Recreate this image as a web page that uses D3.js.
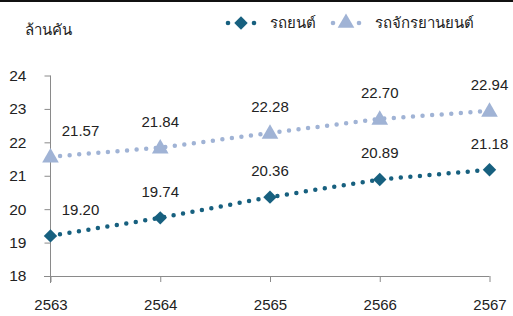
<!DOCTYPE html>
<html>
<head>
<meta charset="utf-8">
<script src="https://cdn.jsdelivr.net/npm/d3@7"></script>
<style>
  body { margin: 0; background: #fff; }
  svg { display: block; font-family: "Liberation Sans", Arial, sans-serif; }
</style>
</head>
<body>
<svg id="chart" width="513" height="316"></svg>
<script>
// datos
const years = ["2563", "2564", "2565", "2566", "2567"];
const cars = [19.20, 19.74, 20.36, 20.89, 21.18];
const motorcycles = [21.57, 21.84, 22.28, 22.70, 22.94];
const yTicks = [18, 19, 20, 21, 22, 23, 24];
const seriesNames = ["รถยนต์", "รถจักรยานยนต์"];
const unitLabel = "ล้านคัน";

const darkColor = "#17607f";
const lightColor = "#a0b3d5";
const axisColor = "#8a8a8a";

const svg = d3.select("#chart");

// línea negra superior
svg.append("rect").attr("x", 0).attr("y", 0).attr("width", 513).attr("height", 2).attr("fill", "#111");

const x = d3.scalePoint().domain(years).range([50.5, 489.5]);
const y = d3.scaleLinear().domain([18, 24]).range([276, 75.5]);

const g = svg.append("g");

// eje Y
const yAxis = g.append("g")
  .attr("transform", "translate(50.5,0)")
  .call(d3.axisLeft(y).tickValues(yTicks).tickSize(6).tickPadding(6).tickFormat(d3.format("d")));
yAxis.select(".domain").remove();
yAxis.selectAll("line").attr("stroke", axisColor);
yAxis.selectAll("text").attr("font-size", 15.5).attr("fill", "#222").attr("x", -24);
g.append("line").attr("x1", 50.5).attr("x2", 50.5).attr("y1", 75.5).attr("y2", 283).attr("stroke", axisColor);

// eje X
const xAxis = g.append("g")
  .attr("transform", "translate(0,276)")
  .call(d3.axisBottom(x).tickSize(6).tickPadding(17));
xAxis.select(".domain").remove();
xAxis.selectAll("line").attr("stroke", axisColor);
xAxis.selectAll("text").attr("font-size", 15).attr("fill", "#222");
g.append("line").attr("x1", 44).attr("x2", 489.5).attr("y1", 276.5).attr("y2", 276.5).attr("stroke", axisColor);

// título de unidad
svg.append("text").attr("x", 25).attr("y", 35).attr("font-size", 15)
  .attr("font-family", "'Noto Sans', sans-serif").attr("fill", "#222").text(unitLabel);

const line = d3.line().x((d, i) => x(years[i])).y(d => y(d));

const diamond = d3.symbol().type(d3.symbolDiamond2).size(115);
const triangle = d3.symbol().type(d3.symbolTriangle).size(120);

function drawSeries(values, color, shape, yOff) {
  g.append("path")
    .datum(values)
    .attr("d", line)
    .attr("fill", "none")
    .attr("stroke", color)
    .attr("stroke-width", 4.5)
    .attr("stroke-linecap", "round")
    .attr("stroke-dasharray", "0 9.6");

  g.selectAll(null)
    .data(values)
    .enter()
    .append("path")
    .attr("d", shape)
    .attr("transform", (d, i) => `translate(${x(years[i])},${y(d) + yOff})`)
    .attr("fill", color);

  g.selectAll(null)
    .data(values)
    .enter()
    .append("text")
    .attr("x", (d, i) => x(years[i]) + (i === 0 ? 30 : 0))
    .attr("y", d => y(d) - 21)
    .attr("text-anchor", "middle")
    .attr("font-size", 15)
    .attr("fill", "#222")
    .text(d => d.toFixed(2));
}

drawSeries(cars, darkColor, diamond, 0);
drawSeries(motorcycles, lightColor, triangle, 1);

// leyenda
const legend = [
  { name: seriesNames[0], color: darkColor, shape: diamond, cx: 241, tx: 270 },
  { name: seriesNames[1], color: lightColor, shape: triangle, cx: 346, tx: 375 }
];
legend.forEach(l => {
  const lg = svg.append("g");
  [-13, 13].forEach(dx => {
    lg.append("circle").attr("cx", l.cx + dx).attr("cy", 23).attr("r", 2.3).attr("fill", l.color);
  });
  lg.append("path").attr("d", l.shape).attr("transform", `translate(${l.cx},23)`).attr("fill", l.color);
  lg.append("text").attr("x", l.tx).attr("y", 28).attr("font-size", 15)
    .attr("font-family", "'Noto Sans', sans-serif").attr("fill", "#222").text(l.name);
});
</script>
</body>
</html>
